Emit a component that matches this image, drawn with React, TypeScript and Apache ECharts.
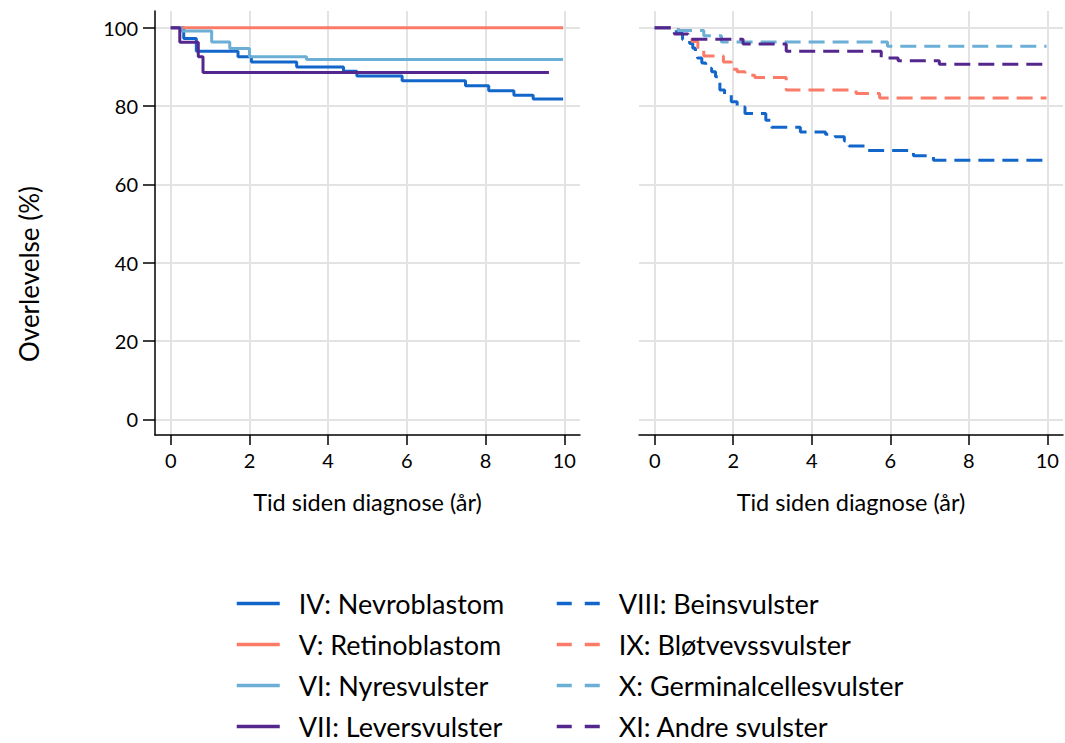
import React, { useEffect, useRef } from "react";
import * as echarts from "echarts";

// Kaplan–Meier survival, [years since diagnosis, survival %]; each value holds from its time onward.
const nevroblastom = [[0, 100], [0.33, 97.3], [0.65, 94.0], [1.71, 92.6], [2.05, 91.3], [3.2, 90.0], [4.39, 88.9], [4.73, 87.7], [5.88, 86.5], [7.49, 85.2], [8.08, 83.9], [8.72, 82.8], [9.21, 81.8], [9.97, 81.8]];
const retinoblastom = [[0, 100], [9.97, 100]];
const nyresvulster = [[0, 100], [0.27, 99.2], [1.04, 96.4], [1.5, 94.7], [2.0, 92.6], [3.45, 91.9], [9.97, 91.9]];
const leversvulster = [[0, 100], [0.23, 96.3], [0.7, 92.6], [0.82, 88.6], [9.61, 88.6]];

const beinsvulster = [[0, 100], [0.55, 98.6], [0.71, 97.0], [0.89, 96.0], [0.97, 94.8], [1.04, 93.5], [1.09, 92.3], [1.2, 91.0], [1.3, 89.7], [1.45, 88.8], [1.55, 87.5], [1.62, 86.2], [1.66, 84.1], [1.78, 82.8], [1.95, 81.1], [2.1, 79.8], [2.3, 78.1], [2.83, 76.4], [2.97, 74.6], [3.71, 73.4], [4.35, 72.8], [4.6, 72.2], [4.83, 71.1], [4.95, 69.8], [5.42, 68.7], [6.59, 67.3], [7.1, 66.2], [9.98, 66.2]];
const blotvevssvulster = [[0, 100], [0.6, 99.3], [0.95, 96.5], [1.1, 94.6], [1.25, 92.8], [1.75, 91.3], [1.95, 89.4], [2.1, 88.8], [2.3, 87.9], [2.55, 87.3], [3.35, 84.1], [5.13, 83.2], [5.73, 82.1], [9.98, 82.1]];
const germinalcellesvulster = [[0, 100], [0.6, 99.3], [1.25, 98.0], [1.7, 96.4], [5.93, 95.3], [9.98, 95.3]];
const andreSvulster = [[0, 100], [0.5, 98.4], [0.85, 97.1], [2.25, 95.9], [3.35, 94.0], [5.77, 92.3], [6.2, 91.6], [7.25, 90.7], [9.98, 90.7]];

const xTicks = [0, 2, 4, 6, 8, 10];
const yTicks = [0, 20, 40, 60, 80, 100];

const leftNames = ["IV: Nevroblastom", "V: Retinoblastom", "VI: Nyresvulster", "VII: Leversvulster"];
const rightNames = ["VIII: Beinsvulster", "IX: Bløtvevssvulster", "X: Germinalcellesvulster", "XI: Andre svulster"];

const COLORS = ["#1266c9", "#fa7b68", "#6baed6", "#54278f"];
const FONT = "Lato";
const DASH = [16, 8];
const LEGEND_DASH = [15, 13];

function buildOption() {
  const leftData = [nevroblastom, retinoblastom, nyresvulster, leversvulster];
  const rightData = [beinsvulster, blotvevssvulster, germinalcellesvulster, andreSvulster];

  const mkSeries = (name: string, data: number[][], color: string, idx: number, dashed: boolean) => ({
    name,
    type: "line",
    step: "end",
    symbol: "none",
    xAxisIndex: idx,
    yAxisIndex: idx,
    data,
    itemStyle: { color },
    lineStyle: { color, width: 3, type: dashed ? DASH : "solid" },
    emphasis: { disabled: true },
    z: 3,
  });

  const series = [
    ...leftNames.map((n, i) => mkSeries(n, leftData[i], COLORS[i], 0, false)),
    ...rightNames.map((n, i) => mkSeries(n, rightData[i], COLORS[i], 1, true)),
  ];

  const gridLine = { show: true, lineStyle: { color: "#e3e3e3", width: 2 } };

  const xAxis = (gridIndex: number) => ({
    type: "value",
    gridIndex,
    min: -0.4,
    max: 10.4,
    name: "Tid siden diagnose (år)",
    nameLocation: "middle",
    nameGap: 55,
    nameTextStyle: { fontFamily: FONT, fontSize: 23.5, color: "#000" },
    axisLine: { show: true, onZero: false, lineStyle: { color: "#000", width: 1.5 } },
    axisTick: { show: true, length: 10, lineStyle: { color: "#000", width: 1.5 }, customValues: xTicks },
    axisLabel: { show: true, customValues: xTicks, fontFamily: FONT, fontSize: 20, color: "#000", margin: 15 },
    splitLine: gridLine,
  });

  const yAxis = (gridIndex: number, labelled: boolean) => ({
    type: "value",
    gridIndex,
    min: -4,
    max: 104.3,
    axisLine: { show: labelled, onZero: false, lineStyle: { color: "#000", width: 1.5 } },
    axisTick: { show: labelled, length: 12, lineStyle: { color: "#000", width: 1.5 }, customValues: yTicks },
    axisLabel: { show: labelled, customValues: yTicks, fontFamily: FONT, fontSize: 20, color: "#000", margin: 17 },
    splitLine: gridLine,
  });

  const legend = (left: number, names: string[], dashed: boolean) => ({
    orient: "vertical",
    left,
    top: 590,
    height: 220,
    padding: 0,
    itemWidth: 43,
    itemHeight: 22,
    itemGap: 14,
    selectedMode: false,
    data: names.map((n) => ({
      name: n,
      itemStyle: { opacity: 0 },
      lineStyle: { width: 3.5, type: dashed ? LEGEND_DASH : "solid" },
    })),
    textStyle: { fontFamily: FONT, fontSize: 27, color: "#000", padding: [0, 0, 0, 14] },
  });

  return {
    animation: false,
    backgroundColor: "#fff",
    textStyle: { fontFamily: FONT },
    grid: [
      { left: 155, top: 11, width: 425, height: 424 },
      { left: 639, top: 11, width: 424, height: 424 },
    ],
    xAxis: [xAxis(0), xAxis(1)],
    yAxis: [yAxis(0, true), yAxis(1, false)],
    legend: [legend(235, leftNames, false), legend(555, rightNames, true)],
    graphic: [
      {
        type: "text",
        x: 29,
        y: 274,
        rotation: Math.PI / 2,
        style: {
          text: "Overlevelse (%)",
          font: `26px ${FONT}`,
          fill: "#000",
          align: "center",
          verticalAlign: "middle",
        },
      },
    ],
    series,
  };
}

export default function App() {
  const ref = useRef<HTMLDivElement>(null);
  useEffect(() => {
    const chart = echarts.init(ref.current!, null, { renderer: "svg" });
    chart.setOption(buildOption() as any);
    return () => chart.dispose();
  }, []);
  return (
    <div
      ref={ref}
      style={{ position: "fixed", left: 0, top: 0, width: 1065, height: 743, background: "#fff" }}
    />
  );
}
